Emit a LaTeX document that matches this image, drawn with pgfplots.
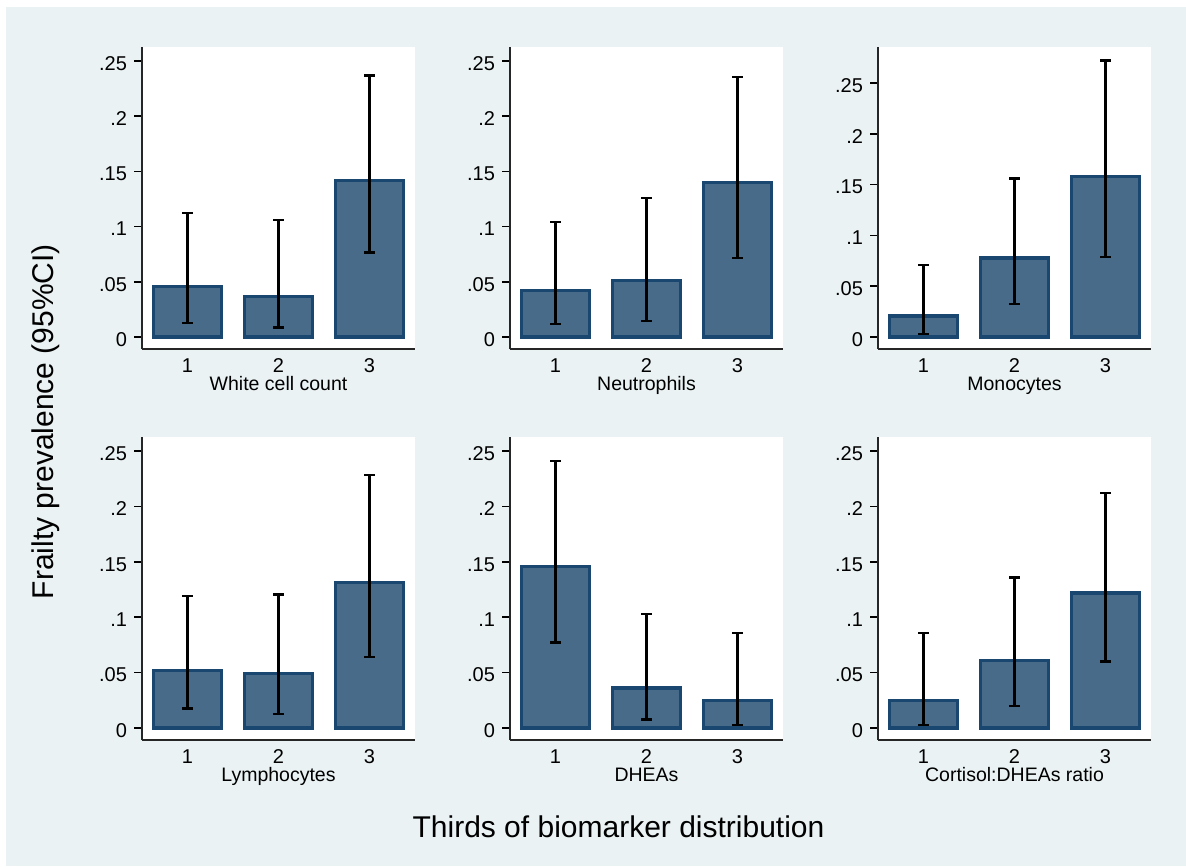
\documentclass[border=0pt]{standalone}
\usepackage{fontspec}
\setmainfont{Liberation Sans}
\usepackage{pgfplots}
\usepackage{pgfplotstable}
\pgfplotsset{compat=1.18}
\definecolor{bgc}{RGB}{234,242,243}
\definecolor{barfill}{RGB}{73,107,138}
\definecolor{barline}{RGB}{26,71,111}

\pgfplotstableread{
x y lo hi
1 0.0455 0.0127 0.1123
2 0.0370 0.0085 0.1060
3 0.1420 0.0764 0.2367
}\tabA
\pgfplotstableread{
x y lo hi
1 0.0422 0.0118 0.1040
2 0.0509 0.0145 0.1260
3 0.1397 0.0716 0.2355
}\tabB
\pgfplotstableread{
x y lo hi
1 0.0207 0.0030 0.0709
2 0.0777 0.0325 0.1558
3 0.1578 0.0787 0.2720
}\tabC
\pgfplotstableread{
x y lo hi
1 0.0518 0.0175 0.1190
2 0.0491 0.0127 0.1205
3 0.1315 0.0643 0.2286
}\tabD
\pgfplotstableread{
x y lo hi
1 0.1457 0.0770 0.2410
2 0.0361 0.0075 0.1027
3 0.0247 0.0027 0.0858
}\tabE
\pgfplotstableread{
x y lo hi
1 0.0247 0.0027 0.0855
2 0.0606 0.0200 0.1360
3 0.1219 0.0601 0.2122
}\tabF

\pgfplotsset{
  panel/.style={
    scale only axis, width=136.5pt, height=151pt,
    xmin=0.5, xmax=3.5, ymin=-0.0109, ymax=0.2627,
    axis x line*=bottom, axis y line*=left,
    axis line style={-, line width=0.8pt, black!85},
    axis background/.style={fill=white},
    xtick={1,2,3}, xticklabels={1,2,3},
    ytick={0,0.05,0.1,0.15,0.2,0.25}, yticklabels={0,.05,.1,.15,.2,.25},
    tick align=outside,
    major tick length=4pt,
    xtick style={draw=none},
    ytick style={line width=0.8pt, black},
    ticklabel style={font=\fontsize{10}{12}\selectfont},
    xticklabel style={anchor=base, yshift=-7.5pt},
    yticklabel style={anchor=east, yshift=-1.2pt},
    xlabel style={at={(axis description cs:0.5,0)}, anchor=base, yshift=-20.75pt, font=\fontsize{9.75}{11}\selectfont},
  },
  bars/.style={ybar, bar width=0.75, bar shift=0pt, fill=barfill, draw=barline, line width=1.6pt, line join=miter,
    error bars/.cd, y dir=both, y explicit,
    error bar style={line width=1.2pt, black},
    error mark options={rotate=90, mark size=2.7pt, line width=1.2pt, black}},
}
\newcommand{\tabplot}[1]{\addplot[bars] table[x=x, y=y, y error plus expr=\thisrow{hi}-\thisrow{y}, y error minus expr=\thisrow{y}-\thisrow{lo}]{#1};}

\begin{document}
\begin{tikzpicture}
\useasboundingbox (0,0) rectangle (593pt,-433pt);
\fill[white] (0,0) rectangle (593pt,-433pt);
\fill[bgc] (3pt,-3.5pt) rectangle (593pt,-433pt);

\begin{axis}[panel, at={(71pt,-174.5pt)}, anchor=south west, xlabel={White cell count}]
\tabplot{\tabA}
\end{axis}
\begin{axis}[panel, at={(255pt,-174.5pt)}, anchor=south west, xlabel={Neutrophils}]
\tabplot{\tabB}
\end{axis}
\begin{axis}[panel, at={(439pt,-174.5pt)}, anchor=south west, ymin=-0.0118, ymax=0.2854, xlabel={Monocytes}]
\tabplot{\tabC}
\end{axis}
\begin{axis}[panel, at={(71pt,-370pt)}, anchor=south west, height=151.5pt, xlabel={Lymphocytes}]
\tabplot{\tabD}
\end{axis}
\begin{axis}[panel, at={(255pt,-370pt)}, anchor=south west, height=151.5pt, xlabel={DHEAs}]
\tabplot{\tabE}
\end{axis}
\begin{axis}[panel, at={(439pt,-370pt)}, anchor=south west, height=151.5pt, xlabel={Cortisol:DHEAs ratio}]
\tabplot{\tabF}
\end{axis}

\node[rotate=90, anchor=base, font=\fontsize{15}{18}\selectfont] at (26.65pt,-210.85pt) {Frailty prevalence (95\%CI)};
\node[anchor=base, font=\fontsize{15}{18}\selectfont] at (309.25pt,-418.65pt) {Thirds of biomarker distribution};
\end{tikzpicture}
\end{document}
